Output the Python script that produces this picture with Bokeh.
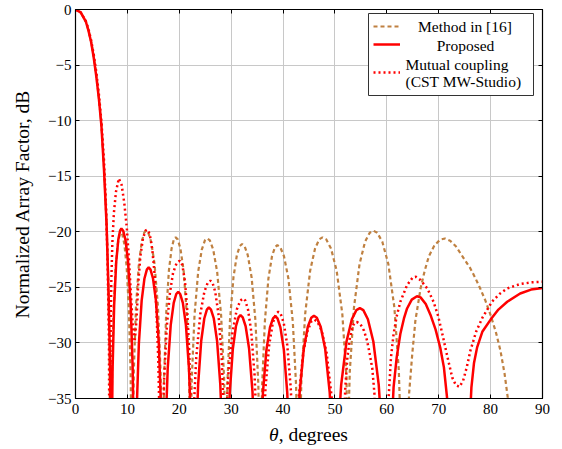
from bokeh.plotting import figure
from bokeh.models import (Range1d, LinearAxis, FixedTicker, CustomJSTickFormatter,
                          Legend, LegendItem, Label, BoxAnnotation, Div)
from bokeh.layouts import column
from bokeh.embed import file_html
from bokeh.resources import INLINE

# ---------------- data (theta in degrees, normalized AF in dB) ----------------
x_ticks = [0, 10, 20, 30, 40, 50, 60, 70, 80, 90]
y_ticks = [-35, -30, -25, -20, -15, -10, -5, 0]

legend_labels = ["Method in [16]", "Proposed", "Mutual coupling", "(CST MW-Studio)"]
x_label_symbol = "θ"
x_label_rest = ", degrees"
y_label = "Normalized Array Factor, dB"

method_pts = [
    (0, 0), (1, -0.25), (2, -1.1), (2.5, -1.85), (3, -2.85), (3.5, -4.2), (4, -5.85),
    (4.5, -7.9), (5, -10.4), (5.5, -14.2), (6.0, -19.2), (6.3, -24), (6.55, -31), (6.75, -50),
    (6.87, -40.6), (7.05, -32.7), (7.35, -27.0), (7.75, -23.1), (8.15, -21.1), (8.49, -20.28),
    (8.75, -20.1), (9.04, -20.28), (9.41, -21.1), (9.85, -23.1), (10.29, -27.0), (10.62, -32.7),
    (10.82, -40.6),
    (10.99, -40.4), (11.24, -32.5), (11.65, -26.8), (12.21, -22.9), (12.77, -20.9), (13.24, -20.08),
    (13.6, -19.9), (14.03, -20.08), (14.58, -20.9), (15.24, -22.9), (15.9, -26.8), (16.39, -32.5),
    (16.68, -40.4),
    (16.85, -41.0), (17.08, -33.1), (17.47, -27.4), (18.0, -23.5), (18.52, -21.5), (18.96, -20.68),
    (19.3, -20.5), (19.7, -20.68), (20.22, -21.5), (20.84, -23.5), (21.45, -27.4), (21.91, -33.1),
    (22.09, -41.1), (22.41, -33.2), (22.94, -27.5), (23.64, -23.6), (24.34, -21.6), (24.94, -20.78),
    (25.4, -20.6), (25.9, -20.78), (26.54, -21.6), (27.3, -23.6), (28.06, -27.5), (28.64, -33.2),
    (28.97, -41.6), (29.27, -33.7), (29.77, -28.0), (30.44, -24.1), (31.1, -22.1), (31.67, -21.28),
    (32.1, -21.1), (32.58, -21.28), (33.2, -22.1), (33.94, -24.1), (34.68, -28.0), (35.23, -33.7),
    (35.56, -41.6),
    (35.66, -41.7), (35.97, -33.8), (36.49, -28.1), (37.18, -24.2), (37.87, -22.2), (38.45, -21.38),
    (38.9, -21.2), (39.45, -21.38), (40.18, -22.2), (41.03, -24.2), (41.88, -28.1), (42.51, -33.8),
    (42.9, -41.7),
    (43.12, -41.0), (43.55, -33.1), (44.26, -27.4), (45.22, -23.5), (46.17, -21.5), (46.98, -20.68),
    (47.6, -20.5), (48.31, -20.68), (49.24, -21.5), (50.33, -23.5), (51.42, -27.4), (52.23, -33.1),
    (52.39, -40.4), (52.87, -32.5), (53.67, -26.8), (54.74, -22.9), (55.8, -20.9), (56.71, -20.08),
    (57.4, -19.9), (58.15, -20.08), (59.13, -20.9), (60.29, -22.9), (61.45, -26.8), (62.31, -32.5),
    (62.83, -40.4),
    (63.6, -50), (64.0, -38), (64.3, -34.5), (64.9, -31.0), (65.5, -28.0), (66.5, -25.1),
    (67.3, -23.5), (68.1, -22.2), (69.2, -21.2), (70.3, -20.7), (71.2, -20.6), (72.2, -20.8),
    (73.3, -21.3), (74.7, -22.3), (76.1, -23.3), (77.1, -24.2), (78.0, -25.1), (79.0, -26.2),
    (80.0, -27.5), (81.0, -29.0), (81.9, -30.7), (82.7, -32.8), (83.3, -34.9), (83.6, -37), (84, -45),
]

proposed_pts = [
    (0, 0), (1, -0.25), (2, -1.1), (2.5, -1.9), (3, -2.9), (3.5, -4.3), (4, -6.0), (4.5, -8.0),
    (5, -10.5), (5.5, -14.5), (6, -19.5), (6.4, -26), (6.7, -33), (6.85, -50),
    (6.97, -40.2), (7.15, -32.3), (7.45, -26.6), (7.85, -22.7), (8.25, -20.7), (8.59, -19.9),
    (8.85, -19.7), (9.18, -19.9), (9.62, -20.7), (10.13, -22.7), (10.64, -26.6), (11.02, -32.3),
    (11.25, -40.2),
    (11.56, -43.7), (11.81, -35.8), (12.21, -30.1), (12.75, -26.2), (13.29, -24.2), (13.75, -23.4),
    (14.1, -23.2), (14.46, -23.4), (14.94, -24.2), (15.5, -26.2), (16.06, -30.1), (16.48, -35.8),
    (16.73, -43.7),
    (17.07, -45.9), (17.34, -38.0), (17.77, -32.3), (18.35, -28.4), (18.93, -26.4), (19.42, -25.6),
    (19.8, -25.4), (20.18, -25.6), (20.69, -26.4), (21.28, -28.4), (21.87, -32.3), (22.31, -38.0),
    (22.57, -45.9),
    (22.93, -47.3), (23.19, -39.4), (23.64, -33.7), (24.23, -29.8), (24.82, -27.8), (25.32, -27.0),
    (25.7, -26.8), (26.11, -27.0), (26.65, -27.8), (27.28, -29.8), (27.9, -33.7), (28.38, -39.4),
    (28.66, -47.3),
    (29.03, -48), (29.29, -40.1), (29.74, -34.4), (30.33, -30.5), (30.92, -28.5), (31.42, -27.7),
    (31.8, -27.5), (32.23, -27.7), (32.79, -28.5), (33.45, -30.5), (34.11, -34.4), (34.6, -40.1),
    (34.9, -48),
    (35.3, -48.1), (35.61, -40.2), (36.12, -34.5), (36.8, -30.6), (37.48, -28.6), (38.06, -27.8),
    (38.5, -27.6), (38.93, -27.8), (39.49, -28.6), (40.15, -30.6), (40.81, -34.5), (41.31, -40.2),
    (41.6, -48.1),
    (42.26, -48.05), (42.61, -40.15), (43.2, -34.45), (43.99, -30.55), (44.77, -28.55), (45.44, -27.73),
    (45.95, -27.55), (46.51, -27.73), (47.25, -28.55), (48.12, -30.55), (48.99, -34.45), (49.65, -40.15),
    (50.0, -50),
    (50.43, -39.47), (51.2, -33.77), (52.23, -29.87), (53.26, -27.87), (54.13, -27.05),
    (54.8, -26.87), (55.47, -27.05), (56.35, -27.87), (57.4, -29.87), (58.44, -33.77), (59.22, -39.47),
    (59.69, -47.37),
    (60.7, -45), (61.0, -37), (61.3, -34), (61.9, -31.3), (62.6, -29.2), (63.3, -27.8), (63.9, -26.9),
    (64.8, -26.1), (65.8, -25.8), (66.5, -25.9), (67.5, -26.5), (68.4, -27.46), (69.4, -28.8),
    (70.3, -30.43), (71.0, -32.2), (71.6, -34.9), (71.9, -37), (72.2, -45),
    (75.7, -50), (76.0, -37), (76.3, -34), (76.8, -31.8), (77.4, -30.4), (78.4, -29.0), (80, -27.9),
    (81.5, -27.0), (83.2, -26.3), (85.7, -25.55), (87.8, -25.2), (90, -25.05),
]

coupling_pts = [
    (0, 0), (1, -0.25), (2, -1.05), (2.5, -1.75), (3, -2.75), (3.5, -4.0), (4, -5.6), (4.5, -7.6),
    (5, -10.1), (5.5, -13.6), (5.9, -18), (6.2, -23), (6.45, -30), (6.6, -50),
    (6.75, -30), (6.9, -24.5), (7.1, -21), (7.4, -18.3), (7.8, -16.4), (8.35, -15.2), (8.9, -15.8),
    (9.4, -17.4), (9.9, -19.7), (10.3, -22.5), (10.7, -25.8), (11.05, -28.5), (11.4, -29.9),
    (11.75, -28), (12.1, -24.6), (12.5, -22.2), (13.0, -20.6), (13.5, -19.9), (13.85, -19.8),
    (14.3, -20.2), (14.8, -21.6), (15.2, -23.6), (15.6, -27), (15.95, -31.5), (16.25, -38), (16.4, -50),
    (16.75, -38), (17.1, -33), (17.6, -28.5), (18.2, -25.5), (18.8, -23.7), (19.5, -22.8), (20.1, -22.6),
    (20.6, -23.0), (21.1, -24.5), (21.5, -26.8), (21.9, -30.5), (22.2, -35.5),
    (22.33, -44.9), (22.69, -37.0), (23.27, -31.3), (24.05, -27.4), (24.83, -25.4), (25.49, -24.58),
    (26.0, -24.4), (26.4, -24.58), (26.93, -25.4), (27.55, -27.4), (28.17, -31.3), (28.64, -37.0),
    (28.83, -38.6), (29.44, -32.9), (30.26, -29.0), (31.08, -27.0), (31.77, -26.18), (32.3, -26.0),
    (32.71, -26.18), (33.25, -27.0), (33.88, -29.0), (34.51, -32.9), (34.99, -38.6), (35.27, -46.5),
    (35.75, -47.7), (36.07, -39.8), (36.61, -34.1), (37.32, -30.2), (38.03, -28.2), (38.64, -27.38),
    (39.1, -27.2), (39.54, -27.38), (40.13, -28.2), (40.81, -30.2), (41.49, -34.1), (42.0, -39.8),
    (42.4, -40.5), (43.04, -34.8), (43.89, -30.9), (44.73, -28.9), (45.45, -28.08), (46.0, -27.9),
    (46.62, -28.08), (47.44, -28.9), (48.4, -30.9), (49.35, -34.8), (50.07, -40.5), (50.5, -48.4),
    (51.3, -50), (51.7, -38), (52.0, -34), (52.4, -31.3), (52.9, -29.5), (53.5, -28.4), (54.2, -28.1),
    (54.9, -28.3), (55.6, -28.9), (56.2, -29.8), (56.7, -31), (57.2, -32.3), (57.6, -34.5),
    (57.85, -38), (58.0, -50),
    (59.6, -50), (60.0, -38), (60.4, -34.5), (60.8, -31.3), (61.3, -29.2), (61.9, -27.6), (62.6, -26.3),
    (63.9, -24.8), (65.0, -24.1), (65.6, -24.05), (66.5, -24.35), (67.8, -25.1), (69.0, -26.3),
    (69.9, -27.6), (70.7, -29.2), (71.7, -31.3), (72.6, -33.1), (73.3, -33.8), (74.0, -33.95),
    (74.7, -33.4), (75.4, -32.2), (76.1, -30.7), (77.2, -29.0), (78.4, -27.75), (80.3, -26.27),
    (81.7, -25.6), (83.2, -25.1), (85.7, -24.7), (88, -24.55), (90, -24.5),
]

method_theta = [t for t, _ in method_pts]
method_af = [a for _, a in method_pts]
proposed_theta = [t for t, _ in proposed_pts]
proposed_af = [a for _, a in proposed_pts]
coupling_theta = [t for t, _ in coupling_pts]
coupling_af = [a for _, a in coupling_pts]

# ---------------- styling ----------------
FONT = "Liberation Serif"
BROWN = "#bf8040"
RED = "#ff0000"
W, H_FIG = 556, 425
B_LEFT, B_RIGHT, B_TOP, B_BOTTOM = 75, 14, 9, 27
FH = H_FIG - B_TOP - B_BOTTOM  # frame height
FW = W - B_LEFT - B_RIGHT      # frame width
TOP_PAGE = B_TOP               # page y of frame top


def from_top(page_y):
    """screen y (frame-relative, upward) for a page-space y position"""
    return FH - (page_y - TOP_PAGE)


p = figure(width=W, height=H_FIG, output_backend="svg", toolbar_location=None,
           x_range=Range1d(0, 90), y_range=Range1d(-35, 0),
           min_border_left=B_LEFT, min_border_right=B_RIGHT,
           min_border_top=B_TOP, min_border_bottom=B_BOTTOM,
           background_fill_color="white", border_fill_color="white")

p.outline_line_color = "black"
p.outline_line_width = 1.2

minus_fmt = CustomJSTickFormatter(code="return tick < 0 ? '\u2212' + (-tick) : '' + tick;")
blank_fmt = CustomJSTickFormatter(code="return '';")

xt = FixedTicker(ticks=x_ticks)
yt = FixedTicker(ticks=y_ticks)

for ax, t in ((p.xaxis[0], xt), (p.yaxis[0], yt)):
    ax.ticker = t
    ax.formatter = minus_fmt
    ax.major_tick_in = 4
    ax.major_tick_out = 0
    ax.major_tick_line_color = "black"
    ax.minor_tick_line_color = None
    ax.axis_line_color = "black"
    ax.major_label_text_font = FONT
    ax.major_label_text_font_size = "15px"
    ax.major_label_text_color = "black"

p.xaxis.major_label_standoff = 5
p.yaxis.major_label_standoff = 4
p.yaxis.axis_label = y_label
p.yaxis.axis_label_text_font = FONT
p.yaxis.axis_label_text_font_size = "19.5px"
p.yaxis.axis_label_text_font_style = "normal"
p.yaxis.axis_label_text_color = "black"
p.yaxis.axis_label_standoff = 12

for t, side in ((xt, "above"), (yt, "right")):
    ax = LinearAxis(ticker=t, formatter=blank_fmt, major_tick_in=4, major_tick_out=0,
                    major_tick_line_color="black", minor_tick_line_color=None,
                    axis_line_color="black", major_label_standoff=0,
                    major_label_text_font_size="1px")
    p.add_layout(ax, side)

p.xgrid.ticker = xt
p.ygrid.ticker = yt
p.grid.grid_line_color = "#c8c8c8"
p.grid.grid_line_width = 1

r_m = p.line(method_theta, method_af, line_color=BROWN, line_width=2.2, line_dash="4 3")
r_p = p.line(proposed_theta, proposed_af, line_color=RED, line_width=2.5)
r_c = p.line(coupling_theta, coupling_af, line_color=RED, line_width=2.5, line_dash="2 3")

# ---------------- legend ----------------
box = BoxAnnotation(left=FW - 174, right=FW - 9, top=from_top(13), bottom=from_top(95),
                    left_units="screen", right_units="screen",
                    top_units="screen", bottom_units="screen",
                    fill_color="white", fill_alpha=1.0,
                    line_color="#333333", line_width=1, line_alpha=1.0)
p.add_layout(box)

common = dict(orientation="vertical", padding=0, spacing=0, margin=0, glyph_width=27,
              label_width=1, label_standoff=0, background_fill_alpha=0,
              border_line_alpha=0, label_text_font_size="1px")
legA = Legend(items=[LegendItem(label=" ", renderers=[r_m]),
                     LegendItem(label=" ", renderers=[r_p])],
              location=(FW - 169, from_top(17) - 36), glyph_height=18, label_height=18, **common)
legB = Legend(items=[LegendItem(label=" ", renderers=[r_c])],
              location=(FW - 169, from_top(54) - 36), glyph_height=36, label_height=36, **common)
p.add_layout(legA)
p.add_layout(legB)

lab_kw = dict(x_units="screen", y_units="screen", text_font=FONT, text_font_size="15.5px",
              text_color="black", text_baseline="middle")
p.add_layout(Label(x=FW - 77.5, y=from_top(26), text=legend_labels[0], text_align="center", **lab_kw))
p.add_layout(Label(x=FW - 77, y=from_top(45), text=legend_labels[1], text_align="center", **lab_kw))
p.add_layout(Label(x=FW - 137, y=from_top(63.5), text=legend_labels[2], text_align="left", **lab_kw))
p.add_layout(Label(x=FW - 137, y=from_top(81), text=legend_labels[3], text_align="left", **lab_kw))

# x-axis label (italic theta) as real text below the figure
xlabel = Div(text=f"<i>{x_label_symbol}</i>{x_label_rest}", width=FW, height=24,
             margin=(0, 0, 0, B_LEFT),
             styles={"text-align": "center", "font-family": FONT, "font-size": "19.5px",
                     "line-height": "20px", "color": "black", "width": f"{FW}px"})

layout = column(p, xlabel, spacing=0)
open("out.html", "w").write(file_html(layout, INLINE))
